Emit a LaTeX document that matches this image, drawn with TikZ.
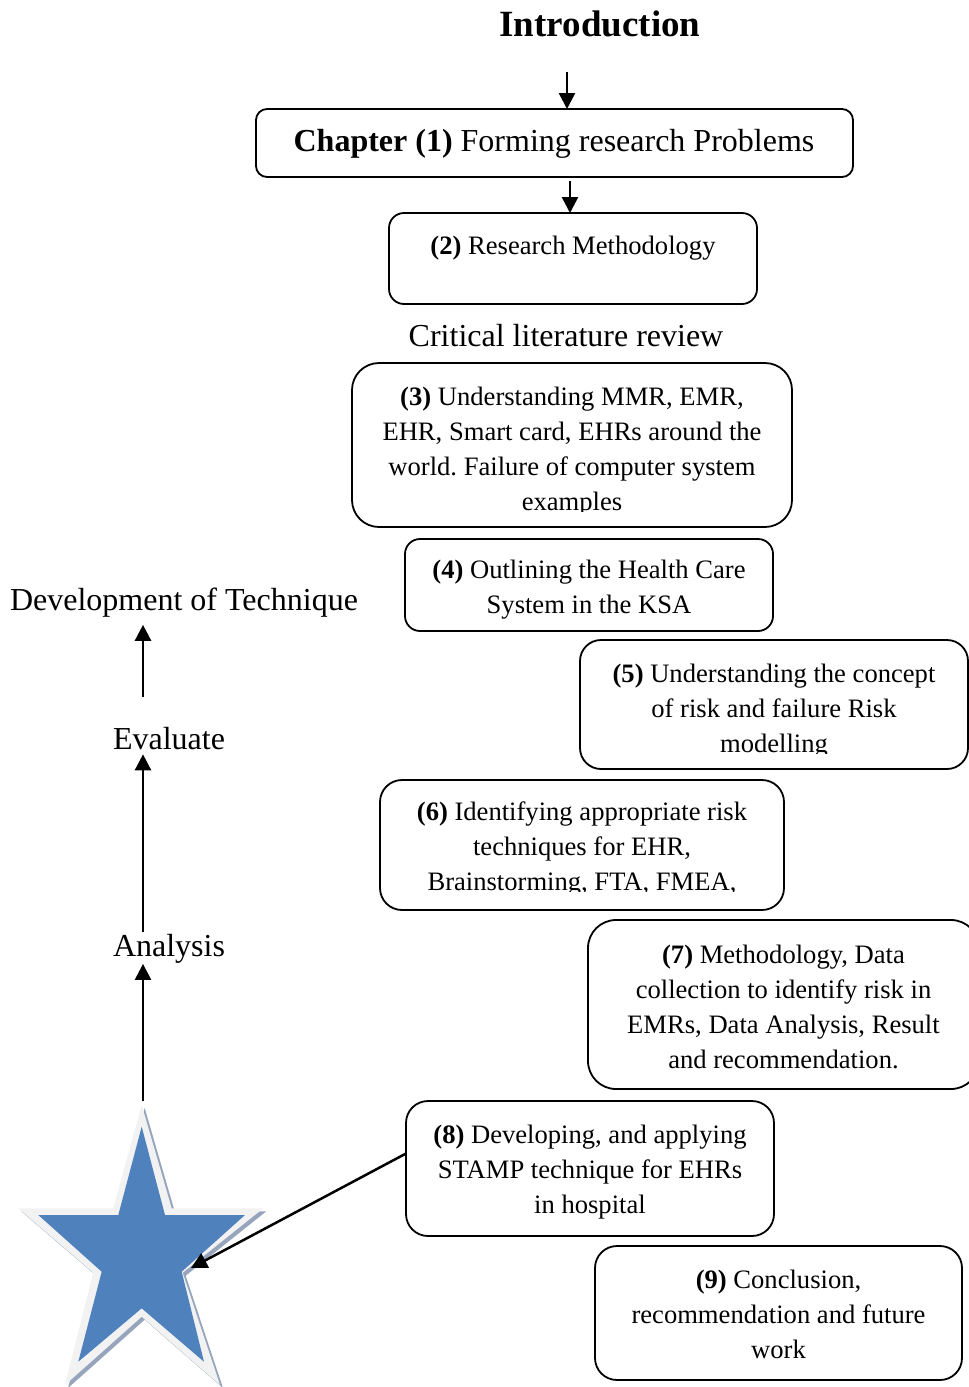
\documentclass[tikz,border=0pt]{standalone}
\usepackage{fontspec}
\setmainfont{Liberation Serif}
\usetikzlibrary{arrows.meta}
% forces a fixed height on the first line of each text block
\newcommand\topstrut{\rule{0pt}{25pt}}
\frenchspacing
\begin{document}
\begin{tikzpicture}[x=1pt,y=-1pt,
  box/.style={draw=black, line width=1.8pt, inner sep=0pt, outer sep=0pt},
  txt/.style={font=\fontsize{26.6}{35}\selectfont, align=center, inner sep=0pt, anchor=north},
  lbl/.style={font=\fontsize{32}{38}\selectfont, inner sep=2pt, outer sep=2pt, anchor=base},
  arr/.style={line width=2.5pt, -{Triangle[length=16pt,width=16pt]}}]
\useasboundingbox (0,0) rectangle (969,1387);

% ---- star marker ----
\fill[fill={rgb,255:red,150;green,165;blue,187}, shift={(3,3)}]
  (141.7,1105) -- (171.7,1208.3) -- (263.3,1208.3) -- (182.7,1272.7) -- (220,1385)
  -- (141.7,1316.7) -- (65,1385) -- (93.3,1272.7) -- (18.3,1208.3) -- (113.3,1208.3) -- cycle;
\fill[fill={rgb,255:red,242;green,242;blue,242}]
  (141.7,1105) -- (171.7,1208.3) -- (263.3,1208.3) -- (182.7,1272.7) -- (220,1385)
  -- (141.7,1316.7) -- (65,1385) -- (93.3,1272.7) -- (18.3,1208.3) -- (113.3,1208.3) -- cycle;
\fill[fill={rgb,255:red,79;green,129;blue,189}]
  (141.7,1126.7) -- (165,1215) -- (245,1215) -- (181.7,1271.7) -- (204,1361.7)
  -- (141.7,1308.3) -- (78.3,1361.7) -- (101.7,1271.7) -- (38.3,1215) -- (118.3,1215) -- cycle;
\coordinate (startop) at (143,1101);
\coordinate (starhit) at (191,1268);

% ---- titles and side labels ----
\node[font=\fontsize{37}{44}\selectfont\bfseries, inner sep=0pt, anchor=base] (intro) at (600,36) {Introduction};
\node[lbl] (crit) at (566,346) {Critical literature review};
\node[lbl] (dev) at (184,610) {Development of Technique};
\node[lbl] (eval) at (169,749) {Evaluate};
\node[lbl] (anal) at (169,956) {Analysis};
\coordinate (col) at (143,0);

% ---- boxes ----
\node[box, rounded corners=11pt, minimum width=597pt, minimum height=68pt] (b1) at (554.5,143) {};
\node[box, rounded corners=15pt, minimum width=368pt, minimum height=91pt] (b2) at (573,258.5) {};
\node[box, rounded corners=27pt, minimum width=440pt, minimum height=164pt] (b3) at (572,445) {};
\node[box, rounded corners=15pt, minimum width=368pt, minimum height=92pt] (b4) at (589,585) {};
\node[box, rounded corners=21pt, minimum width=388pt, minimum height=129pt] (b5) at (774,704.5) {};
\node[box, rounded corners=22pt, minimum width=404pt, minimum height=130pt] (b6) at (582,845) {};
\node[box, rounded corners=28pt, minimum width=391pt, minimum height=169pt] (b7) at (783.5,1004.5) {};
\node[box, rounded corners=22pt, minimum width=368pt, minimum height=135pt] (b8) at (590,1168.5) {};
\node[box, rounded corners=22pt, minimum width=367pt, minimum height=134pt] (b9) at (778.5,1313) {};

% ---- box texts ----
\node[lbl, inner sep=0pt, outer sep=0pt] (t1) at (554,151) {\textbf{Chapter (1)} Forming research Problems};
\node[txt] (t2) at (573,229) {\topstrut\textbf{(2)} Research Methodology};
\begin{scope}
  \clip (352,363) rectangle (792,511);
  \node[txt] (t3) at (572,380) {\topstrut\textbf{(3)} Understanding MMR, EMR,\\EHR, Smart card, EHRs around the\\world. Failure of computer system\\examples};
\end{scope}
\node[txt] (t4) at (589,553) {\topstrut\textbf{(4)} Outlining the Health Care\\System in the KSA};
\begin{scope}
  \clip (580,640) rectangle (968,753);
  \node[txt] (t5) at (774,657) {\topstrut\textbf{(5)} Understanding the concept\\of risk and failure Risk\\modelling};
\end{scope}
\begin{scope}
  \clip (380,780) rectangle (784,891);
  \node[txt] (t6) at (582,795) {\topstrut\textbf{(6)} Identifying appropriate risk\\techniques for EHR,\\Brainstorming, FTA, FMEA,};
\end{scope}
\node[txt] (t7) at (783.5,938) {\topstrut\textbf{(7)} Methodology, Data\\collection to identify risk in\\EMRs, Data Analysis, Result\\and recommendation.};
\node[txt] (t8) at (590,1118) {\topstrut\textbf{(8)} Developing, and applying\\STAMP technique for EHRs\\in hospital};
\node[txt] (t9) at (778.5,1263) {\topstrut\textbf{(9)} Conclusion,\\recommendation and future\\work};

% ---- connectors ----
\coordinate (in0) at (567,72);
\draw[arr] (in0) -- (in0 |- b1.north);
\draw[arr, shorten <=4pt] (b1.south -| 570,0) -- (b2.north -| 570,0);
\draw[arr, shorten >=-3pt] (startop) -- (anal.south -| col);
\draw[arr, shorten <=-2pt, shorten >=1pt] (anal.north -| col) -- (eval.south -| col);
\draw[arr, shorten <=26pt, shorten >=4pt] (eval.north -| col) -- (dev.south -| col);
\draw[arr] ([yshift=15pt]b8.west) -- (starhit);
\end{tikzpicture}
\end{document}
